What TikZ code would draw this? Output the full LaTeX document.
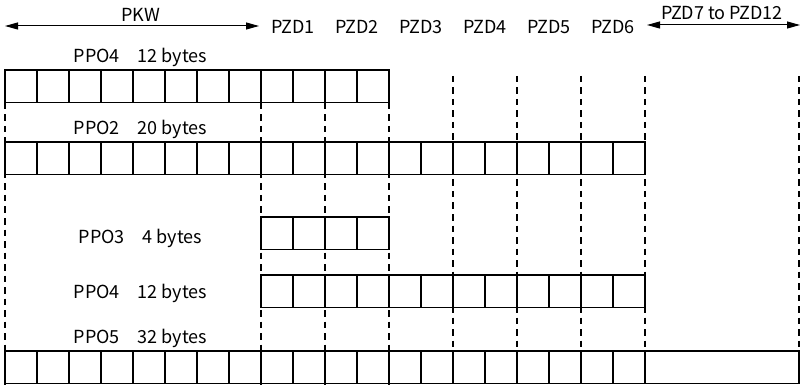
\documentclass[tikz,border=0pt]{standalone}
\usepackage{fontspec}
\setmainfont{Noto Sans CJK SC}
\usetikzlibrary{arrows.meta}
\begin{document}
\begin{tikzpicture}[x=1pt,y=-1pt,
  cell/.style={draw, line width=1.1pt, minimum width=32pt, minimum height=32.5pt, inner sep=0pt, outer sep=0pt, anchor=north west},
  wide/.style={cell, minimum width=154pt},
  guide/.style={line width=1.3pt, dash pattern=on 6.5pt off 5pt},
  arr/.style={line width=1pt, {Triangle[length=13pt,width=7pt]}-{Triangle[length=13pt,width=7pt]}},
  lab/.style={anchor=base, inner sep=0pt, font=\fontsize{18}{20}\selectfont}]
\useasboundingbox (0,0) rectangle (801,385);
% guide coordinates
\foreach \x/\n/\t in {5/g0/103, 261/g1/103, 325/g2/103, 389/g3/103, 453/g4/76, 517/g5/76, 581/g6/76, 645/g7/76, 799/g8/76} {
  \coordinate (\n top) at (\x,\t);
  \coordinate (\n bot) at (\x,385);
}
\foreach \n in {g0,g1,g2,g3,g4,g5,g6,g7,g8} {
  \draw[guide] (\n top) -- (\n bot);
}
% rows of cells
\foreach \i in {1,...,12} { \node[cell, fill=white] (ra\i) at ({5+32*(\i-1)},70) {}; }
\foreach \i in {1,...,20} { \node[cell, fill=white] (rb\i) at ({5+32*(\i-1)},142) {}; }
\foreach \i in {1,...,4}  { \node[cell, fill=white] (rc\i) at ({261+32*(\i-1)},217) {}; }
\foreach \i in {1,...,12} { \node[cell, fill=white] (rd\i) at ({261+32*(\i-1)},275) {}; }
\foreach \i in {1,...,20} { \node[cell, fill=white] (re\i) at ({5+32*(\i-1)},351) {}; }
\node[wide, fill=white] (rebig) at (645,351) {};
% redraw cell borders over fills
\foreach \i in {1,...,12} { \node[cell] at (ra\i.north west) {}; }
\foreach \i in {1,...,20} { \node[cell] at (rb\i.north west) {}; }
\foreach \i in {1,...,4}  { \node[cell] at (rc\i.north west) {}; }
\foreach \i in {1,...,12} { \node[cell] at (rd\i.north west) {}; }
\foreach \i in {1,...,20} { \node[cell] at (re\i.north west) {}; }
% header arrows
\coordinate (pkwL) at (5,26);
\coordinate (pkwR) at (259,26);
\coordinate (pzdL) at (647,25);
\coordinate (pzdR) at (800,25);
\draw[arr] (pkwL) -- (pkwR);
\draw[arr] (pzdL) -- (pzdR);
\node[lab] (pkw) at (140.5,21.5) {PKW};
\node[lab] (pzdrest) at (722,20) {PZD7 to PZD12};
\foreach \k in {1,...,6} {
  \node[lab] (pzd\k) at ({293+64*(\k-1)},34) {PZD\k};
}
% row labels
\node[lab] (l1) at (140.5,63) {PPO4\hspace{1em}12 bytes};
\node[lab] (l2) at (140.5,135) {PPO2\hspace{1em}20 bytes};
\node[lab] (l3) at (140.5,243) {PPO3\hspace{1em}4 bytes};
\node[lab] (l4) at (140.5,298) {PPO4\hspace{1em}12 bytes};
\node[lab] (l5) at (140.5,343) {PPO5\hspace{1em}32 bytes};
\end{tikzpicture}
\end{document}
